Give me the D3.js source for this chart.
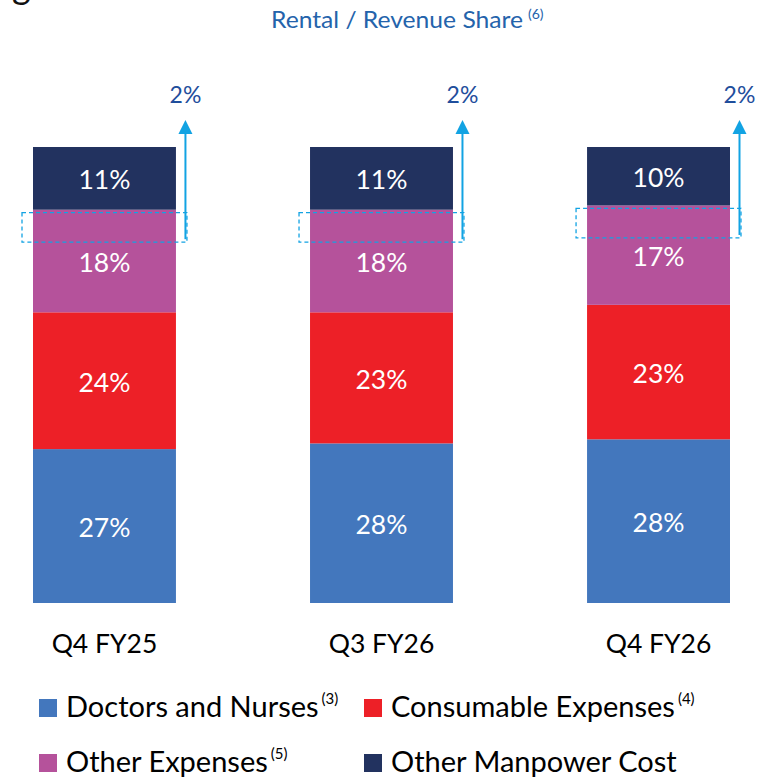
<!DOCTYPE html>
<html>
<head>
<meta charset="utf-8">
<script src="https://cdn.jsdelivr.net/npm/d3@7"></script>
<style>
  html, body { margin: 0; padding: 0; background: #fff; }
  svg { display: block; }
  text { font-family: Lato, "Open Sans", sans-serif; }
</style>
</head>
<body>
<svg id="chart" width="775" height="778"></svg>
<script>
// ---- data ----
const categories = ["Q4 FY25", "Q3 FY26", "Q4 FY26"];
const seriesNames = ["Doctors and Nurses", "Consumable Expenses", "Other Expenses", "Other Manpower Cost"];
const seriesNotes = ["(3)", "(4)", "(5)", ""];
const doctorsNurses = [27, 28, 28];
const consumables = [24, 23, 23];
const otherExpenses = [18, 18, 17];
const otherManpower = [11, 11, 10];
const rentalShare = [2, 2, 2];
const seriesColors = ["#4377BD", "#ED2027", "#B5529B", "#22325F"];

const table = categories.map((c, i) => ({
  cat: c,
  "Doctors and Nurses": doctorsNurses[i],
  "Consumable Expenses": consumables[i],
  "Other Expenses": otherExpenses[i],
  "Other Manpower Cost": otherManpower[i]
}));

const svg = d3.select("#chart");

const x = d3.scaleBand().domain(categories).range([33, 730]).paddingInner(0.484).paddingOuter(0);
const y = d3.scaleLinear().domain([0, 1]).range([603, 147]);
const color = d3.scaleOrdinal().domain(seriesNames).range(seriesColors);

const stacked = d3.stack().keys(seriesNames).offset(d3.stackOffsetExpand)(table);

// clipped heading fragment at top-left
svg.append("text").attr("x", 12).attr("y", -1).attr("font-size", 36).attr("fill", "#111").text("g");

// title
const title = svg.append("text")
  .attr("x", 271).attr("y", 28)
  .attr("font-size", 23).attr("fill", "#2463AB");
title.append("tspan").attr("textLength", 252).attr("lengthAdjust", "spacingAndGlyphs").text("Rental / Revenue Share");
title.append("tspan").attr("font-size", 14).attr("dy", -9).attr("dx", 5).text("(6)");

// bars
const layers = svg.append("g").selectAll("g").data(stacked).join("g")
  .attr("fill", d => color(d.key));
layers.selectAll("rect").data(d => d).join("rect")
  .attr("x", d => x(d.data.cat))
  .attr("width", x.bandwidth())
  .attr("y", d => y(d[1]))
  .attr("height", d => y(d[0]) - y(d[1]));

// value labels
const labelsG = svg.append("g");
stacked.forEach(layer => {
  layer.forEach(d => {
    labelsG.append("text")
      .attr("x", x(d.data.cat) + x.bandwidth() / 2)
      .attr("y", (y(d[0]) + y(d[1])) / 2 + 11)
      .attr("text-anchor", "middle")
      .attr("font-size", 26.5)
      .attr("fill", "#fff")
      .text(d.data[layer.key] + "%");
  });
});

// category axis labels
const xAxis = d3.axisBottom(x).tickSize(0).tickPadding(0);
const axG = svg.append("g").attr("transform", "translate(0,629)").call(xAxis);
axG.select(".domain").remove();
axG.selectAll("text").attr("font-size", 26.5).attr("fill", "#000")
  .attr("font-family", "Lato, 'Open Sans', sans-serif").attr("dy", "0.9em");

// rental / revenue share annotations
const ann = svg.append("g");
const otherLayer = stacked[2];
const annColor = "#12A3E3";
categories.forEach((c, i) => {
  const top = y(otherLayer[i][1]) + 3;
  const left = x(c) - 11;
  const right = x(c) + x.bandwidth() + 11;
  const bottom = top + 29.5;
  ann.append("rect")
    .attr("x", left).attr("y", top)
    .attr("width", right - left).attr("height", bottom - top)
    .attr("fill", "none").attr("stroke", annColor)
    .attr("stroke-width", 1.3).attr("stroke-dasharray", "4,3");
  const ax = right - 1.5;
  const tip = 120;
  ann.append("line")
    .attr("x1", ax).attr("x2", ax).attr("y1", bottom - 3).attr("y2", tip + 12)
    .attr("stroke", annColor).attr("stroke-width", 2);
  ann.append("path")
    .attr("d", `M${ax},${tip} L${ax - 7},${tip + 14} L${ax + 7},${tip + 14} Z`)
    .attr("fill", annColor);
  ann.append("text")
    .attr("x", ax).attr("y", 103)
    .attr("text-anchor", "middle")
    .attr("font-size", 23).attr("fill", "#1F4E9C")
    .text(rentalShare[i] + "%");
});

// legend
const legendPos = [[39, 699], [364, 699], [39, 754], [364, 754]];
const lg = svg.append("g");
seriesNames.forEach((name, i) => {
  const [lx, ly] = legendPos[i];
  lg.append("rect").attr("x", lx).attr("y", ly).attr("width", 18).attr("height", 18)
    .attr("fill", seriesColors[i]);
  const t = lg.append("text").attr("x", lx + 27).attr("y", ly + 18)
    .attr("font-size", 29).attr("fill", "#000");
  t.append("tspan").text(name);
  if (seriesNotes[i]) {
    t.append("tspan").attr("font-size", 15).attr("dy", -13).attr("dx", 3).text(seriesNotes[i]);
  }
});
</script>
</body>
</html>
